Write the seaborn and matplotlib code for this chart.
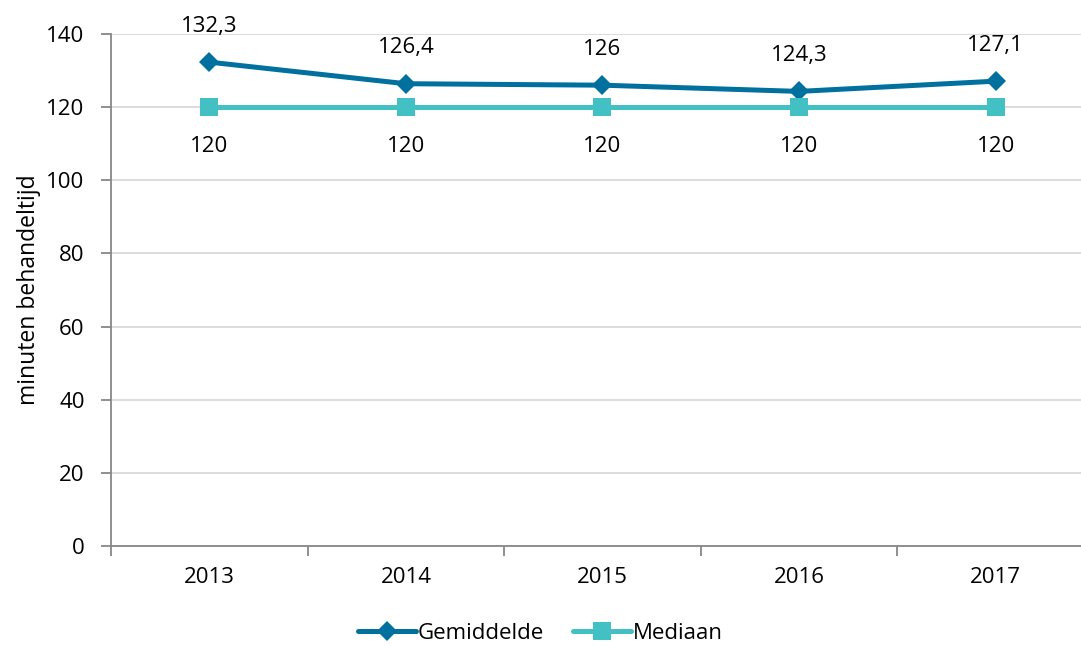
import matplotlib
matplotlib.use("Agg")
import matplotlib.pyplot as plt
from matplotlib.lines import Line2D
import seaborn as sns
import pandas as pd
import numpy as np

years = ["2013", "2014", "2015", "2016", "2017"]
gemiddelde = [132.3, 126.4, 126.0, 124.3, 127.1]
mediaan = [120, 120, 120, 120, 120]
gem_labels = ["132,3", "126,4", "126", "124,3", "127,1"]
med_labels = ["120", "120", "120", "120", "120"]

sns.set_theme(style="white")
plt.rcParams["font.family"] = ["Open Sans", "DejaVu Sans"]

dark_blue = "#00709F"
teal = "#42C0C4"
axis_gray = "#878787"
grid_gray = "#D9D9D9"
fs = 16

df = pd.DataFrame({
    "idx": list(range(len(years))) * 2,
    "waarde": gemiddelde + mediaan,
    "reeks": ["Gemiddelde"] * len(years) + ["Mediaan"] * len(years),
})

fig = plt.figure(figsize=(10.81, 6.46), dpi=100)
ax = fig.add_axes([0.1027, 0.1548, 0.9093, 0.7926])

sns.lineplot(data=df, x="idx", y="waarde", hue="reeks", style="reeks",
             palette={"Gemiddelde": dark_blue, "Mediaan": teal},
             markers={"Gemiddelde": "D", "Mediaan": "s"},
             dashes=False, linewidth=3.6, markeredgewidth=0,
             ax=ax, legend=False)
for line, ms in zip(ax.lines, [10, 13]):
    line.set_markersize(ms)

ax.set_xlim(-0.5, 4.5)
ax.set_ylim(0, 140)
ax.set_yticks(np.arange(0, 141, 20))
ax.set_xticks(range(len(years)))
ax.set_xticklabels(years)
ax.set_xticks(np.arange(-0.5, 4.6, 1), minor=True)
ax.tick_params(axis="x", which="major", bottom=True, length=0, pad=15,
               labelsize=fs, labelcolor="black")
ax.tick_params(axis="x", which="minor", bottom=True, length=7, width=1.3,
               color=axis_gray, direction="out")
ax.tick_params(axis="y", which="major", left=True, length=7, width=1.3,
               color=axis_gray, direction="out", labelsize=fs, pad=12,
               labelcolor="black")
ax.yaxis.grid(True, color=grid_gray, linewidth=1.3)
ax.xaxis.grid(False)
ax.set_axisbelow(True)
for side in ["top", "right"]:
    ax.spines[side].set_visible(False)
for side in ["left", "bottom"]:
    ax.spines[side].set_color(axis_gray)
    ax.spines[side].set_linewidth(1.3)

ax.set_xlabel("")
ax.set_ylabel("minuten behandeltijd", fontsize=16.5, color="black", labelpad=4)

for i, (v, t) in enumerate(zip(gemiddelde, gem_labels)):
    ax.annotate(t, (i, v), xytext=(0, 26), textcoords="offset points",
                ha="center", va="center", fontsize=fs, color="black")
for i, (v, t) in enumerate(zip(mediaan, med_labels)):
    ax.annotate(t, (i, v), xytext=(0, -28), textcoords="offset points",
                ha="center", va="center", fontsize=fs, color="black")

handles = [
    Line2D([], [], color=dark_blue, lw=3.6, marker="D", markersize=10, markeredgewidth=0),
    Line2D([], [], color=teal, lw=3.6, marker="s", markersize=13, markeredgewidth=0),
]
fig.legend(handles, ["Gemiddelde", "Mediaan"], loc="center", bbox_to_anchor=(0.5, 0.02),
           ncol=2, frameon=False, fontsize=fs, labelcolor="black", handlelength=2.6,
           handletextpad=0.1, columnspacing=1.3)

fig.savefig("out.png", dpi=100)
